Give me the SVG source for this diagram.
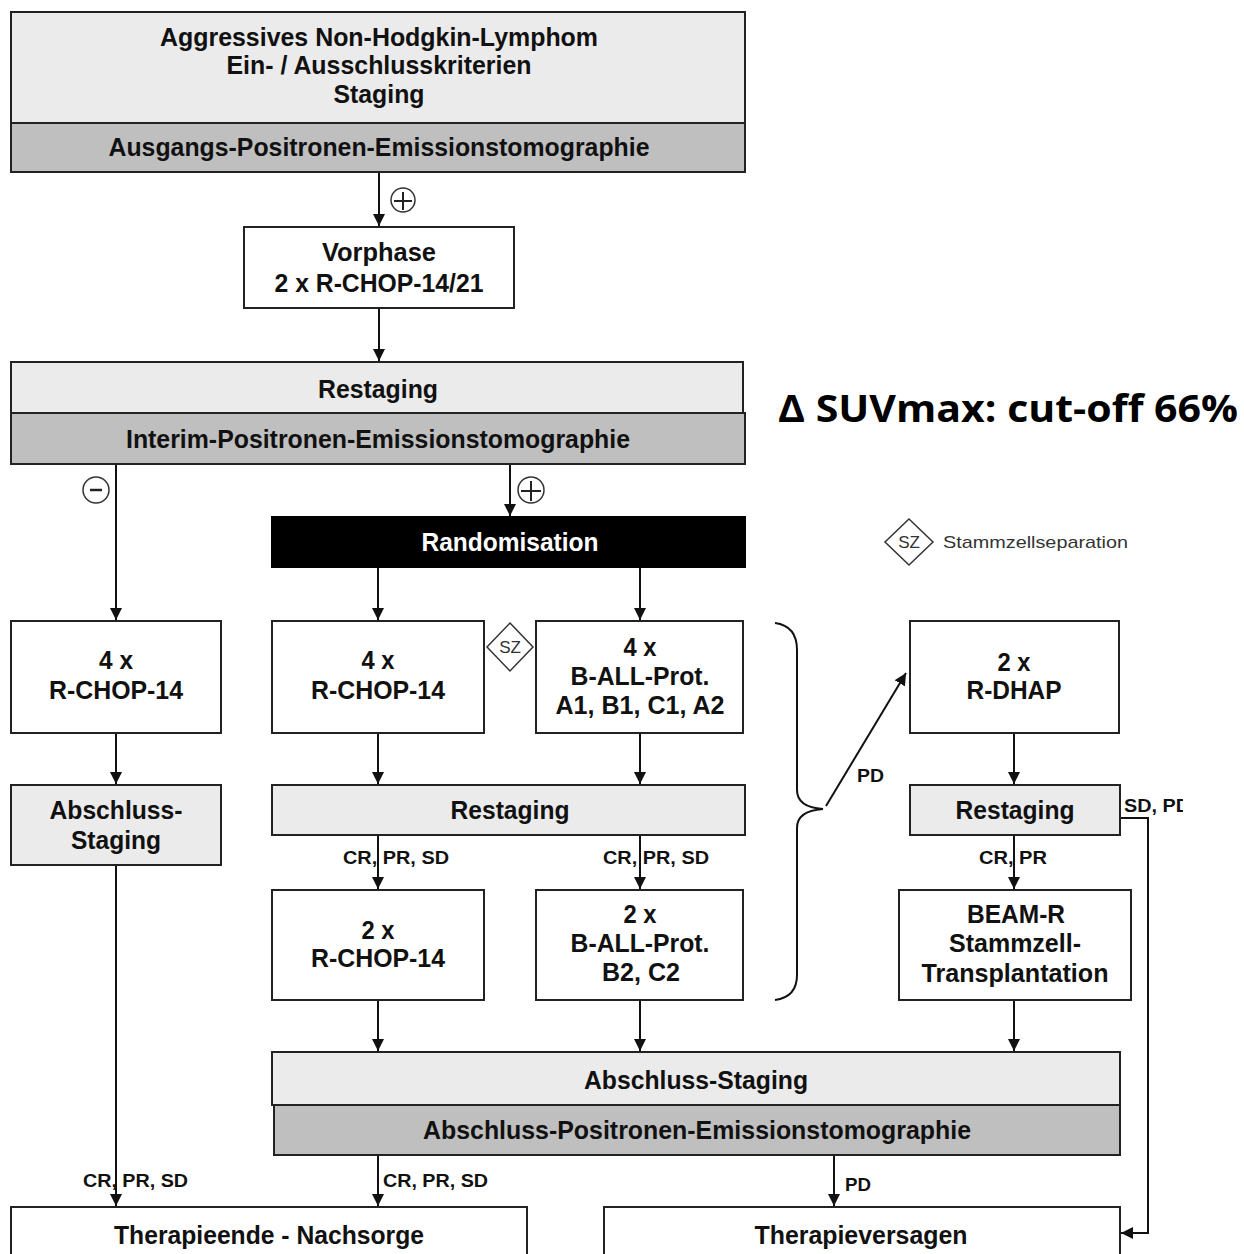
<svg xmlns="http://www.w3.org/2000/svg" width="1244" height="1254" viewBox="0 0 1244 1254">
<style>
.box{stroke:#222;stroke-width:2;fill:#fff}
.lt{stroke:#222;stroke-width:2;fill:#ebebeb}
.dk{stroke:#222;stroke-width:2;fill:#bfbfbf}
.t{font-family:"Liberation Sans",Arial,sans-serif;font-weight:bold;font-size:25px;fill:#111;text-anchor:middle}
.s{font-family:"Liberation Sans",Arial,sans-serif;font-weight:bold;font-size:18px;fill:#111}
.n{font-family:"Liberation Sans",Arial,sans-serif;font-size:17px;fill:#333}
.c{stroke:#111;stroke-width:2;fill:none}
.sym{stroke:#333;stroke-width:1.5;fill:#fff}
</style>
<defs>
<marker id="ah" viewBox="0 0 10 10" refX="10" refY="5" markerWidth="12" markerHeight="12" markerUnits="userSpaceOnUse" orient="auto">
<path d="M0,0 L10,5 L0,10 z" fill="#111"/>
</marker>
<clipPath id="clipR"><rect x="0" y="0" width="1183" height="1254"/></clipPath>
</defs>
<rect x="0" y="0" width="1244" height="1254" fill="#fff"/>

<g id="connectors">
<line class="c" x1="379" y1="173" x2="379" y2="226" marker-end="url(#ah)"/>
<line class="c" x1="379" y1="308" x2="379" y2="361" marker-end="url(#ah)"/>
<line class="c" x1="116" y1="465" x2="116" y2="620" marker-end="url(#ah)"/>
<line class="c" x1="510" y1="465" x2="510" y2="516" marker-end="url(#ah)"/>
<line class="c" x1="378" y1="568" x2="378" y2="620" marker-end="url(#ah)"/>
<line class="c" x1="640" y1="568" x2="640" y2="620" marker-end="url(#ah)"/>
<line class="c" x1="116" y1="733" x2="116" y2="784" marker-end="url(#ah)"/>
<line class="c" x1="378" y1="733" x2="378" y2="784" marker-end="url(#ah)"/>
<line class="c" x1="640" y1="733" x2="640" y2="784" marker-end="url(#ah)"/>
<line class="c" x1="1014" y1="733" x2="1014" y2="784" marker-end="url(#ah)"/>
<line class="c" x1="378" y1="835" x2="378" y2="889" marker-end="url(#ah)"/>
<line class="c" x1="640" y1="835" x2="640" y2="889" marker-end="url(#ah)"/>
<line class="c" x1="1014" y1="835" x2="1014" y2="889" marker-end="url(#ah)"/>
<line class="c" x1="378" y1="1000" x2="378" y2="1051" marker-end="url(#ah)"/>
<line class="c" x1="640" y1="1000" x2="640" y2="1051" marker-end="url(#ah)"/>
<line class="c" x1="1014" y1="1000" x2="1014" y2="1051" marker-end="url(#ah)"/>
<line class="c" x1="116" y1="865" x2="116" y2="1206" marker-end="url(#ah)"/>
<line class="c" x1="378" y1="1155" x2="378" y2="1206" marker-end="url(#ah)"/>
<line class="c" x1="834" y1="1155" x2="834" y2="1206" marker-end="url(#ah)"/>
<line class="c" x1="826" y1="806" x2="906" y2="673" marker-end="url(#ah)"/>
<polyline class="c" points="1120,818 1148,818 1148,1233 1121,1233" marker-end="url(#ah)"/>
<path class="c" d="M775,623 C790,625 797,635 797,650 L797,790 C797,803 808,808 823,809 C808,810 797,815 797,828 L797,975 C797,990 790,998 775,1000"/>
</g>

<g id="n-top">
<rect class="lt" x="11" y="12" width="734" height="111"/>
<rect class="dk" x="11" y="123" width="734" height="49"/>
<text class="t" x="379" y="46" textLength="438" lengthAdjust="spacingAndGlyphs">Aggressives Non-Hodgkin-Lymphom</text>
<text class="t" x="379" y="74" textLength="305" lengthAdjust="spacingAndGlyphs">Ein- / Ausschlusskriterien</text>
<text class="t" x="379" y="103" textLength="91" lengthAdjust="spacingAndGlyphs">Staging</text>
<text class="t" x="379" y="156" textLength="541" lengthAdjust="spacingAndGlyphs">Ausgangs-Positronen-Emissionstomographie</text>
</g>

<g id="sym-plus1">
<circle class="sym" cx="403" cy="200" r="12"/>
<path d="M394,201 H412 M403,192 V210" stroke="#222" stroke-width="2"/>
</g>

<g id="n-vorphase">
<rect class="box" x="244" y="227" width="270" height="81"/>
<text class="t" x="379" y="261" textLength="114" lengthAdjust="spacingAndGlyphs">Vorphase</text>
<text class="t" x="379" y="292" textLength="209" lengthAdjust="spacingAndGlyphs">2 x R-CHOP-14/21</text>
</g>

<g id="n-restaging1">
<rect class="lt" x="11" y="362" width="732" height="51"/>
<rect class="dk" x="11" y="413" width="734" height="51"/>
<text class="t" x="378" y="398" textLength="120" lengthAdjust="spacingAndGlyphs">Restaging</text>
<text class="t" x="378" y="448" textLength="504" lengthAdjust="spacingAndGlyphs">Interim-Positronen-Emissionstomographie</text>
</g>

<g id="suv">
<text x="778" y="422" font-family="'Open Sans','Liberation Sans',sans-serif" font-weight="bold" font-size="38" fill="#000" textLength="460" lengthAdjust="spacingAndGlyphs">Δ SUVmax: cut-off 66%</text>
</g>

<g id="sym-minus">
<circle class="sym" cx="96" cy="490" r="13"/>
<path d="M90,490 H102" stroke="#222" stroke-width="2.5"/>
</g>
<g id="sym-plus2">
<circle class="sym" cx="531" cy="490" r="13"/>
<path d="M521,491 H541 M531,481 V501" stroke="#222" stroke-width="2"/>
</g>

<g id="n-random">
<rect x="272" y="517" width="473" height="50" fill="#000" stroke="#000" stroke-width="2"/>
<text class="t" x="510" y="551" style="fill:#fff" textLength="177" lengthAdjust="spacingAndGlyphs">Randomisation</text>
</g>

<g id="legend">
<polygon class="sym" points="909,519 933,542 909,565 885,542"/>
<text class="n" x="909" y="548" text-anchor="middle" font-size="16">SZ</text>
<text class="n" x="943" y="548" textLength="185" lengthAdjust="spacingAndGlyphs">Stammzellseparation</text>
</g>

<g id="n-rchop-left">
<rect class="box" x="11" y="621" width="210" height="112"/>
<text class="t" x="116" y="669" textLength="34" lengthAdjust="spacingAndGlyphs">4 x</text>
<text class="t" x="116" y="699" textLength="134" lengthAdjust="spacingAndGlyphs">R-CHOP-14</text>
</g>

<g id="n-rchop-mid">
<rect class="box" x="272" y="621" width="212" height="112"/>
<text class="t" x="378" y="669" textLength="33" lengthAdjust="spacingAndGlyphs">4 x</text>
<text class="t" x="378" y="699" textLength="134" lengthAdjust="spacingAndGlyphs">R-CHOP-14</text>
</g>

<g id="sym-sz">
<polygon class="sym" points="510,623 533,647 510,671 487,647"/>
<text class="n" x="510" y="653" text-anchor="middle" font-size="16">SZ</text>
</g>

<g id="n-ball1">
<rect class="box" x="536" y="621" width="207" height="112"/>
<text class="t" x="640" y="656" textLength="33" lengthAdjust="spacingAndGlyphs">4 x</text>
<text class="t" x="640" y="685" textLength="139" lengthAdjust="spacingAndGlyphs">B-ALL-Prot.</text>
<text class="t" x="640" y="714" textLength="169" lengthAdjust="spacingAndGlyphs">A1, B1, C1, A2</text>
</g>

<g id="n-rdhap">
<rect class="box" x="910" y="621" width="209" height="112"/>
<text class="t" x="1014" y="671" textLength="33" lengthAdjust="spacingAndGlyphs">2 x</text>
<text class="t" x="1014" y="699" textLength="95" lengthAdjust="spacingAndGlyphs">R-DHAP</text>
</g>

<g id="n-abschluss-left">
<rect class="lt" x="11" y="785" width="210" height="80"/>
<text class="t" x="116" y="819" textLength="133" lengthAdjust="spacingAndGlyphs">Abschluss-</text>
<text class="t" x="116" y="849" textLength="90" lengthAdjust="spacingAndGlyphs">Staging</text>
</g>

<g id="n-restaging2">
<rect class="lt" x="272" y="785" width="473" height="50"/>
<text class="t" x="510" y="819" textLength="119" lengthAdjust="spacingAndGlyphs">Restaging</text>
</g>

<g id="n-restaging3">
<rect class="lt" x="910" y="785" width="210" height="50"/>
<text class="t" x="1015" y="819" textLength="119" lengthAdjust="spacingAndGlyphs">Restaging</text>
</g>

<g id="labels">
<text class="s" x="343" y="864" textLength="106" lengthAdjust="spacingAndGlyphs">CR, PR, SD</text>
<text class="s" x="603" y="864" textLength="106" lengthAdjust="spacingAndGlyphs">CR, PR, SD</text>
<text class="s" x="979" y="864" textLength="68" lengthAdjust="spacingAndGlyphs">CR, PR</text>
<text class="s" x="857" y="782" textLength="27" lengthAdjust="spacingAndGlyphs">PD</text>
<text class="s" x="1124" y="812" clip-path="url(#clipR)" textLength="66" lengthAdjust="spacingAndGlyphs">SD, PD</text>
<text class="s" x="83" y="1187" textLength="105" lengthAdjust="spacingAndGlyphs">CR, PR, SD</text>
<text class="s" x="383" y="1187" textLength="105" lengthAdjust="spacingAndGlyphs">CR, PR, SD</text>
<text class="s" x="845" y="1191" textLength="26" lengthAdjust="spacingAndGlyphs">PD</text>
</g>

<g id="n-rchop2">
<rect class="box" x="272" y="890" width="212" height="110"/>
<text class="t" x="378" y="939" textLength="33" lengthAdjust="spacingAndGlyphs">2 x</text>
<text class="t" x="378" y="967" textLength="134" lengthAdjust="spacingAndGlyphs">R-CHOP-14</text>
</g>

<g id="n-ball2">
<rect class="box" x="536" y="890" width="207" height="110"/>
<text class="t" x="640" y="923" textLength="33" lengthAdjust="spacingAndGlyphs">2 x</text>
<text class="t" x="640" y="952" textLength="139" lengthAdjust="spacingAndGlyphs">B-ALL-Prot.</text>
<text class="t" x="641" y="981" textLength="78" lengthAdjust="spacingAndGlyphs">B2, C2</text>
</g>

<g id="n-beam">
<rect class="box" x="899" y="890" width="232" height="110"/>
<text class="t" x="1016" y="923" textLength="98" lengthAdjust="spacingAndGlyphs">BEAM-R</text>
<text class="t" x="1015" y="952" textLength="132" lengthAdjust="spacingAndGlyphs">Stammzell-</text>
<text class="t" x="1015" y="982" textLength="187" lengthAdjust="spacingAndGlyphs">Transplantation</text>
</g>

<g id="n-abschluss">
<rect class="lt" x="272" y="1052" width="848" height="53"/>
<rect class="dk" x="274" y="1105" width="846" height="50"/>
<text class="t" x="696" y="1089" textLength="224" lengthAdjust="spacingAndGlyphs">Abschluss-Staging</text>
<text class="t" x="697" y="1139" textLength="548" lengthAdjust="spacingAndGlyphs">Abschluss-Positronen-Emissionstomographie</text>
</g>

<g id="n-therapieende">
<rect class="box" x="11" y="1207" width="516" height="70"/>
<text class="t" x="269" y="1244" textLength="310" lengthAdjust="spacingAndGlyphs">Therapieende - Nachsorge</text>
</g>

<g id="n-therapieversagen">
<rect class="box" x="604" y="1207" width="516" height="70"/>
<text class="t" x="861" y="1244" textLength="213" lengthAdjust="spacingAndGlyphs">Therapieversagen</text>
</g>
</svg>
